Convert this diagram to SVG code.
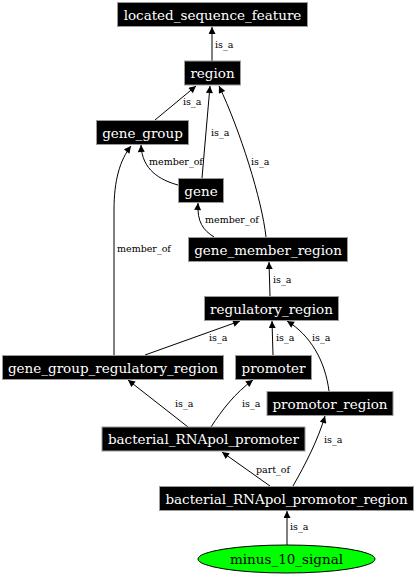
<svg xmlns="http://www.w3.org/2000/svg" width="416" height="576" viewBox="0 0 416 576">
<defs>
<marker id="ah" viewBox="0 0 10 10" refX="10" refY="5" markerWidth="8" markerHeight="7" markerUnits="userSpaceOnUse" orient="auto">
<path d="M0,0 L10,5 L0,10 Z" fill="#000"/>
</marker>
</defs>
<style>
.box{fill:#000;stroke:#9a9a9a;stroke-width:1}
.nl{fill:#fff;font-family:"DejaVu Serif",serif;font-size:13.5px;text-anchor:middle}
.el{fill:#000;font-family:"DejaVu Serif",serif;font-size:9.5px}
.e{fill:none;stroke:#000;stroke-width:1;marker-end:url(#ah)}
</style>
<rect width="416" height="576" fill="#fff"/>
<g id="edges">
<path class="e" d="M212,61 L212,27"/>
<text class="el" x="215" y="48">is_a</text>
<path class="e" d="M155,120 L196,86"/>
<text class="el" x="183" y="105">is_a</text>
<path class="e" d="M202,178 L210,86"/>
<text class="el" x="211" y="136">is_a</text>
<path class="e" d="M266,237 C262,200 240,130 219,86"/>
<text class="el" x="251" y="165">is_a</text>
<path class="e" d="M178,185 C160,180 142,170 141,145"/>
<text class="el" x="149" y="165">member_of</text>
<path class="e" d="M114,355 L114,210 C114,180 120,160 131,146"/>
<text class="el" x="117" y="252">member_of</text>
<path class="e" d="M214,237 C203,230 197,222 198,203"/>
<text class="el" x="205" y="223">member_of</text>
<path class="e" d="M270,296 L269,262"/>
<text class="el" x="273" y="283">is_a</text>
<path class="e" d="M145,355 L240,321"/>
<text class="el" x="209" y="341">is_a</text>
<path class="e" d="M273,355 L272,321"/>
<text class="el" x="276" y="341">is_a</text>
<path class="e" d="M329,391 C325,360 310,335 287,321"/>
<text class="el" x="312" y="341">is_a</text>
<path class="e" d="M188,427 L128,380"/>
<text class="el" x="175" y="407">is_a</text>
<path class="e" d="M211,427 C222,410 235,393 253,380"/>
<text class="el" x="242" y="407">is_a</text>
<path class="e" d="M270,486 L222,452"/>
<text class="el" x="256" y="473">part_of</text>
<path class="e" d="M293,486 C305,465 318,440 325,416"/>
<text class="el" x="324" y="443">is_a</text>
<path class="e" d="M287,545 L287,511"/>
<text class="el" x="290" y="530">is_a</text>
</g>
<g id="located_sequence_feature"><rect class="box" x="117.5" y="2.5" width="190" height="24"/><text class="nl" x="212.5" y="19.5">located_sequence_feature</text></g>
<g id="region"><rect class="box" x="184.5" y="61" width="56" height="24"/><text class="nl" x="212.5" y="78">region</text></g>
<g id="gene_group"><rect class="box" x="96.5" y="120.5" width="92" height="24"/><text class="nl" x="142.5" y="137.5">gene_group</text></g>
<g id="gene"><rect class="box" x="178.5" y="178.5" width="45" height="24"/><text class="nl" x="201" y="195.5">gene</text></g>
<g id="gene_member_region"><rect class="box" x="188.5" y="237.5" width="159" height="24"/><text class="nl" x="268" y="254.5">gene_member_region</text></g>
<g id="regulatory_region"><rect class="box" x="204.5" y="296.5" width="134" height="24"/><text class="nl" x="271.5" y="313.5">regulatory_region</text></g>
<g id="gene_group_regulatory_region"><rect class="box" x="2.5" y="355.5" width="221" height="24"/><text class="nl" x="113" y="372.5">gene_group_regulatory_region</text></g>
<g id="promoter"><rect class="box" x="235.5" y="355.5" width="76" height="24"/><text class="nl" x="273.5" y="372.5">promoter</text></g>
<g id="promotor_region"><rect class="box" x="267" y="391.5" width="126" height="24"/><text class="nl" x="330" y="408.5">promotor_region</text></g>
<g id="bacterial_RNApol_promoter"><rect class="box" x="102" y="427" width="203" height="24"/><text class="nl" x="203.5" y="444">bacterial_RNApol_promoter</text></g>
<g id="bacterial_RNApol_promotor_region"><rect class="box" x="159.5" y="486.5" width="254" height="24"/><text class="nl" x="286.5" y="503.5">bacterial_RNApol_promotor_region</text></g>
<g id="minus_10_signal"><ellipse cx="286.5" cy="559" rx="88.5" ry="14" fill="#00ff00" stroke="#000"/><text class="nl" x="286.5" y="564" style="fill:#000">minus_10_signal</text></g>
</svg>
